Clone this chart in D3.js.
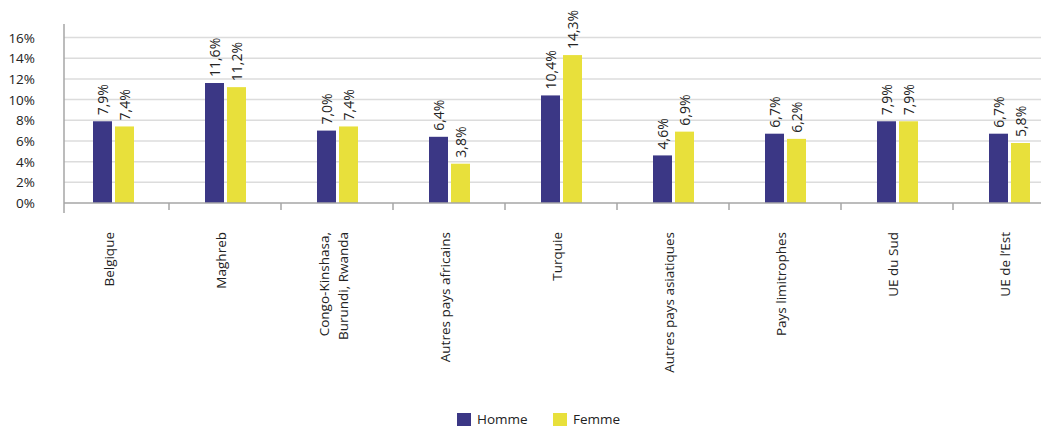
<!DOCTYPE html>
<html><head><meta charset="utf-8">
<script src="https://cdn.jsdelivr.net/npm/d3@7"></script>
<style>body{margin:0;background:#fff;} svg{display:block;font-family:"Open Sans",sans-serif;}</style>
</head><body>
<svg id="c" width="1041" height="429"></svg>
<script>
const categories = ["Belgique","Maghreb","Congo-Kinshasa,|Burundi, Rwanda","Autres pays africains","Turquie","Autres pays asiatiques","Pays limitrophes","UE du Sud","UE de l\u2019Est"];
const homme = [7.9, 11.6, 7.0, 6.4, 10.4, 4.6, 6.7, 7.9, 6.7];
const femme = [7.4, 11.2, 7.4, 3.8, 14.3, 6.9, 6.2, 7.9, 5.8];
const yTicks = [0, 2, 4, 6, 8, 10, 12, 14, 16];
const seriesNames = ["Homme", "Femme"];
const colors = ["#3b3785", "#e8e03b"];

const svg = d3.select("#c");
const x = d3.scaleBand().domain(categories).range([57, 1065]).padding(0);
const y = d3.scaleLinear().domain([0, 16]).range([203, 37.5]);
const axisX = 64;

// gridlines
svg.append("g").selectAll("line").data(yTicks.filter(d => d > 0)).join("line")
  .attr("x1", axisX).attr("x2", 1041).attr("y1", d => y(d)).attr("y2", d => y(d))
  .attr("stroke", "#dcdcdc").attr("stroke-width", 1.5);

// y tick labels
svg.append("g").selectAll("text").data(yTicks).join("text")
  .attr("x", 35).attr("y", d => y(d) + 5).attr("text-anchor", "end")
  .attr("font-size", 13.5).attr("fill", "#222").text(d => d + "%");

// bars
const bw = 19;
const offs = [-20, 2];
[homme, femme].forEach((vals, si) => {
  const g = svg.append("g");
  g.selectAll("rect").data(categories).join("rect")
    .attr("x", (c) => x(c) + x.bandwidth() / 2 + offs[si])
    .attr("y", (c, i) => y(vals[i]))
    .attr("width", bw)
    .attr("height", (c, i) => y(0) - y(vals[i]))
    .attr("fill", colors[si]);
  g.selectAll("text").data(categories).join("text")
    .attr("transform", (c, i) => {
      const cx = x(c) + x.bandwidth() / 2 + offs[si] + bw / 2 + 5;
      return `translate(${cx},${y(vals[i]) - 6}) rotate(-90)`;
    })
    .attr("font-size", 14).attr("fill", "#222")
    .text((c, i) => d3.format(".1f")(vals[i]).replace(".", ",") + "%");
});

// baseline
svg.append("line").attr("x1", axisX).attr("x2", 1041).attr("y1", y(0)).attr("y2", y(0))
  .attr("stroke", "#a6a6a6").attr("stroke-width", 1.5);
// y axis line
svg.append("line").attr("x1", axisX).attr("x2", axisX).attr("y1", 24).attr("y2", 213)
  .attr("stroke", "#a6a6a6").attr("stroke-width", 1.5);
// category ticks
svg.append("g").selectAll("line").data(categories.slice(1)).join("line")
  .attr("x1", c => x(c)).attr("x2", c => x(c)).attr("y1", y(0)).attr("y2", 210)
  .attr("stroke", "#a6a6a6").attr("stroke-width", 1.5);

// x labels
svg.append("g").selectAll("text").data(categories).join("text")
  .attr("transform", c => {
    const lines = c.split("|");
    const cx = x(c) + x.bandwidth() / 2 + 1 - (lines.length - 1) * 9.5;
    return `translate(${cx},232) rotate(-90)`;
  })
  .attr("text-anchor", "end").attr("font-size", 13.5).attr("fill", "#222")
  .each(function(c) {
    const lines = c.split("|");
    d3.select(this).selectAll("tspan").data(lines).join("tspan")
      .attr("x", 0).attr("dy", (d, i) => i === 0 ? 0 : 19).text(d => d);
  });

// legend
const lg = svg.append("g");
const lx = [457, 553];
seriesNames.forEach((n, i) => {
  lg.append("rect").attr("x", lx[i]).attr("y", 413).attr("width", 14).attr("height", 13).attr("fill", colors[i]);
  lg.append("text").attr("x", lx[i] + 20).attr("y", 424).attr("font-size", 13.5).attr("fill", "#222").text(n);
});
</script>
</body></html>
